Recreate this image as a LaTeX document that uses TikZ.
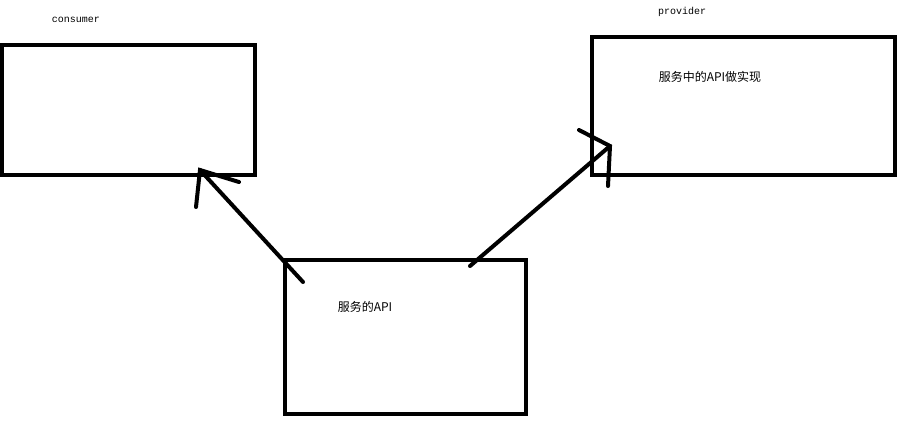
\documentclass[tikz,border=0pt]{standalone}
\usepackage{fontspec}
\newfontfamily\cjk{Noto Sans CJK SC}
\newfontfamily\mono{Liberation Mono}
\begin{document}
\begin{tikzpicture}[x=1pt,y=-1pt,
  box/.style={draw,line width=4pt},
  stroke/.style={line width=4pt,line cap=round},
  lab/.style={font=\mono\fontsize{10}{12}\selectfont},
  cn/.style={font=\cjk\fontsize{12}{14}\selectfont}]
\useasboundingbox (0,0) rectangle (924,437);
\node[box,minimum width=253pt,minimum height=130pt,anchor=north west] (cons) at (0,43) {};
\node[box,minimum width=303pt,minimum height=138pt,anchor=north west] (prov) at (590,35) {};
\node[box,minimum width=241pt,minimum height=154pt,anchor=north west] (api) at (283,258) {};
\node[lab] (cl) at (76,20) {consumer};
\node[lab] (pl) at (682,12) {provider};
\node[cn] (pt) at (710,77) {服务中的API做实现};
\node[cn] (at) at (365,307) {服务的API};
\coordinate (a1s) at (303,282);
\coordinate (a1e) at (200,170);
\coordinate (a1l) at (196,207);
\coordinate (a1r) at (239,182);
\coordinate (a2s) at (470,266);
\coordinate (a2e) at (610,146);
\coordinate (a2l) at (579,130);
\coordinate (a2r) at (608,186);
\draw[stroke] (a1s) -- (a1e);
\draw[stroke] (a1l) -- (a1e) -- (a1r);
\draw[stroke] (a2s) -- (a2e);
\draw[stroke] (a2l) -- (a2e) -- (a2r);
\end{tikzpicture}
\end{document}
